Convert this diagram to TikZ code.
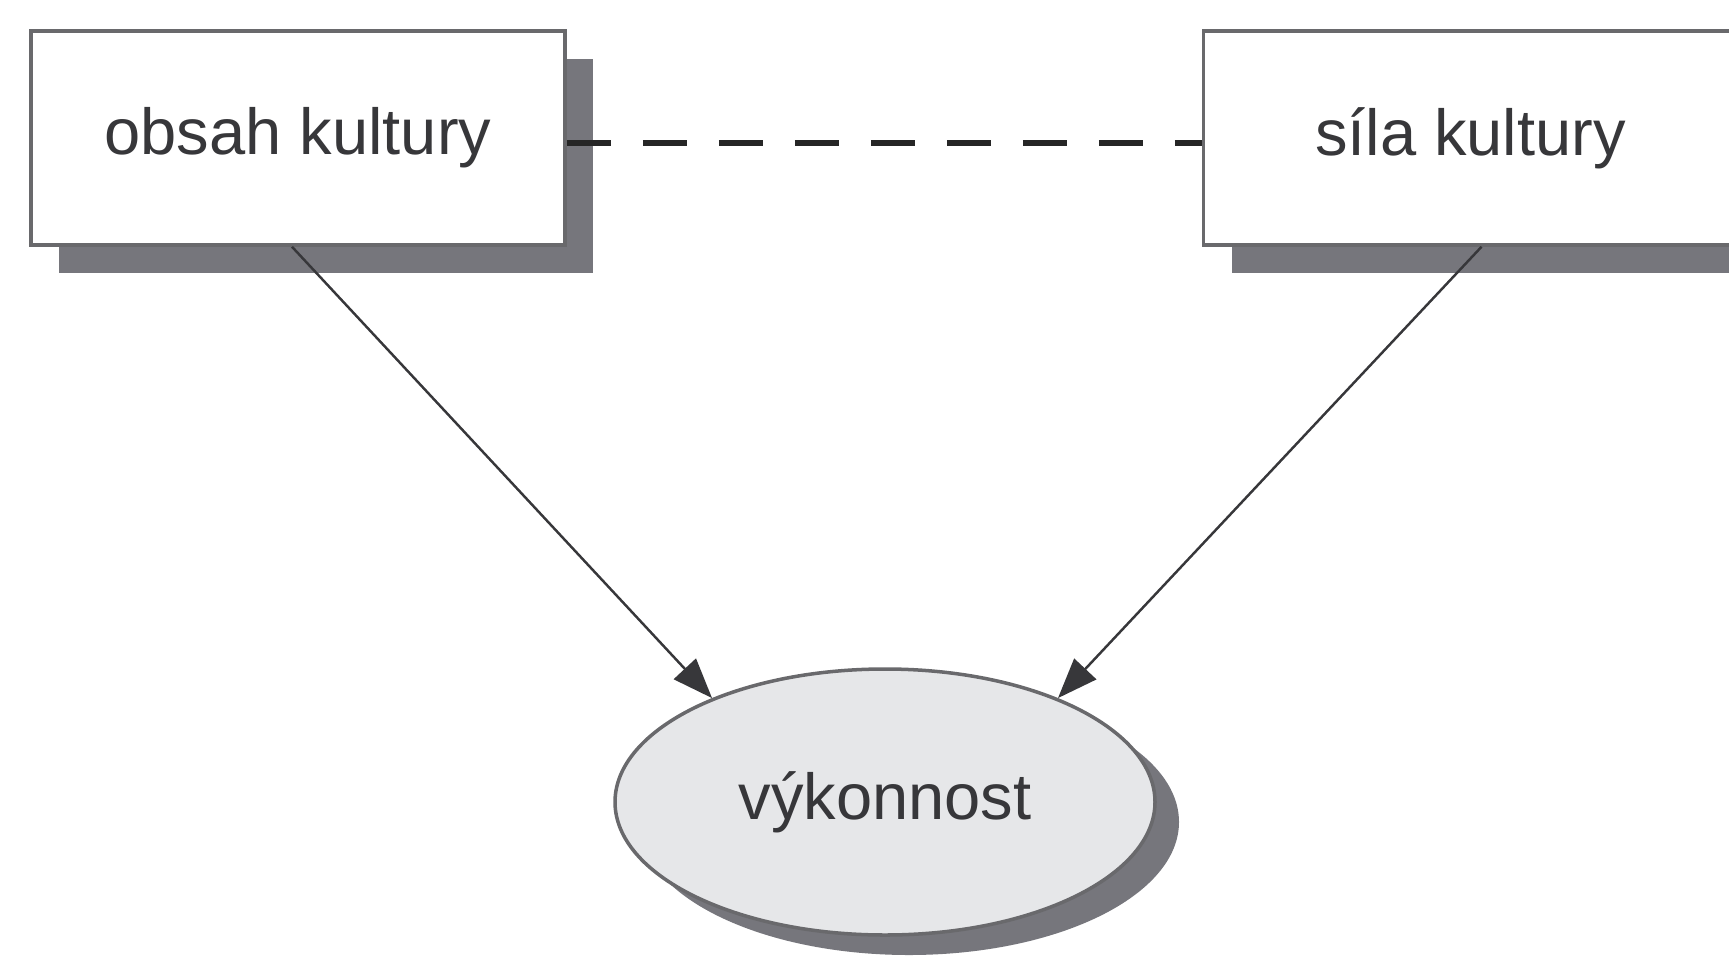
\documentclass[tikz,border=0pt]{standalone}
\usepackage{fontspec}
\setmainfont{Liberation Sans}
\usetikzlibrary{arrows.meta,shadows,shapes.geometric,positioning}

\definecolor{rimgray}{RGB}{105,105,108}
\definecolor{shadegray}{RGB}{118,118,124}
\definecolor{fillgray}{RGB}{230,231,233}
\definecolor{inkgray}{RGB}{55,55,58}

\tikzset{
    factor/.style={draw=rimgray, line width=1pt, fill=white, text=inkgray,
        minimum width=5.34cm, minimum height=2.14cm,
        font=\fontsize{18.5}{22}\selectfont,
        drop shadow={shadow xshift=0.28cm, shadow yshift=-0.28cm, fill=shadegray, opacity=1}},
    outcome/.style={ellipse, draw=rimgray, line width=1pt, fill=fillgray, text=inkgray,
        minimum width=5.4cm, minimum height=2.66cm, inner sep=0pt,
        font=\fontsize{18.5}{22}\selectfont,
        drop shadow={shadow xshift=0.24cm, shadow yshift=-0.2cm, fill=shadegray, opacity=1}},
    effect/.style={draw=inkgray, line width=0.7pt, -{Triangle[length=0.4cm, width=0.3cm]}},
}

\begin{document}
\begin{tikzpicture}
    \useasboundingbox (0,0) rectangle (17.29,-9.55);
    \clip (0,0) rectangle (17.29,-9.55);
    \node[factor] (obsah) at (2.98,-1.38) {obsah kultury};
    \node[factor, right=6.35cm of obsah] (sila) {síla kultury};
    \node[outcome] (vykon) at (8.85,-8.02) {výkonnost};
    % link between the two factors
    \draw[line width=1.7pt, black!85, dash pattern=on 0.44cm off 0.32cm]
        ([yshift=-0.05cm]obsah.east) -- ([yshift=-0.05cm]sila.west);
    % influence on performance
    \draw[effect] ([xshift=-0.06cm]obsah.south) -- (vykon.149);
    \draw[effect] ([xshift=0.11cm]sila.south) -- (vykon.31);
\end{tikzpicture}
\end{document}
